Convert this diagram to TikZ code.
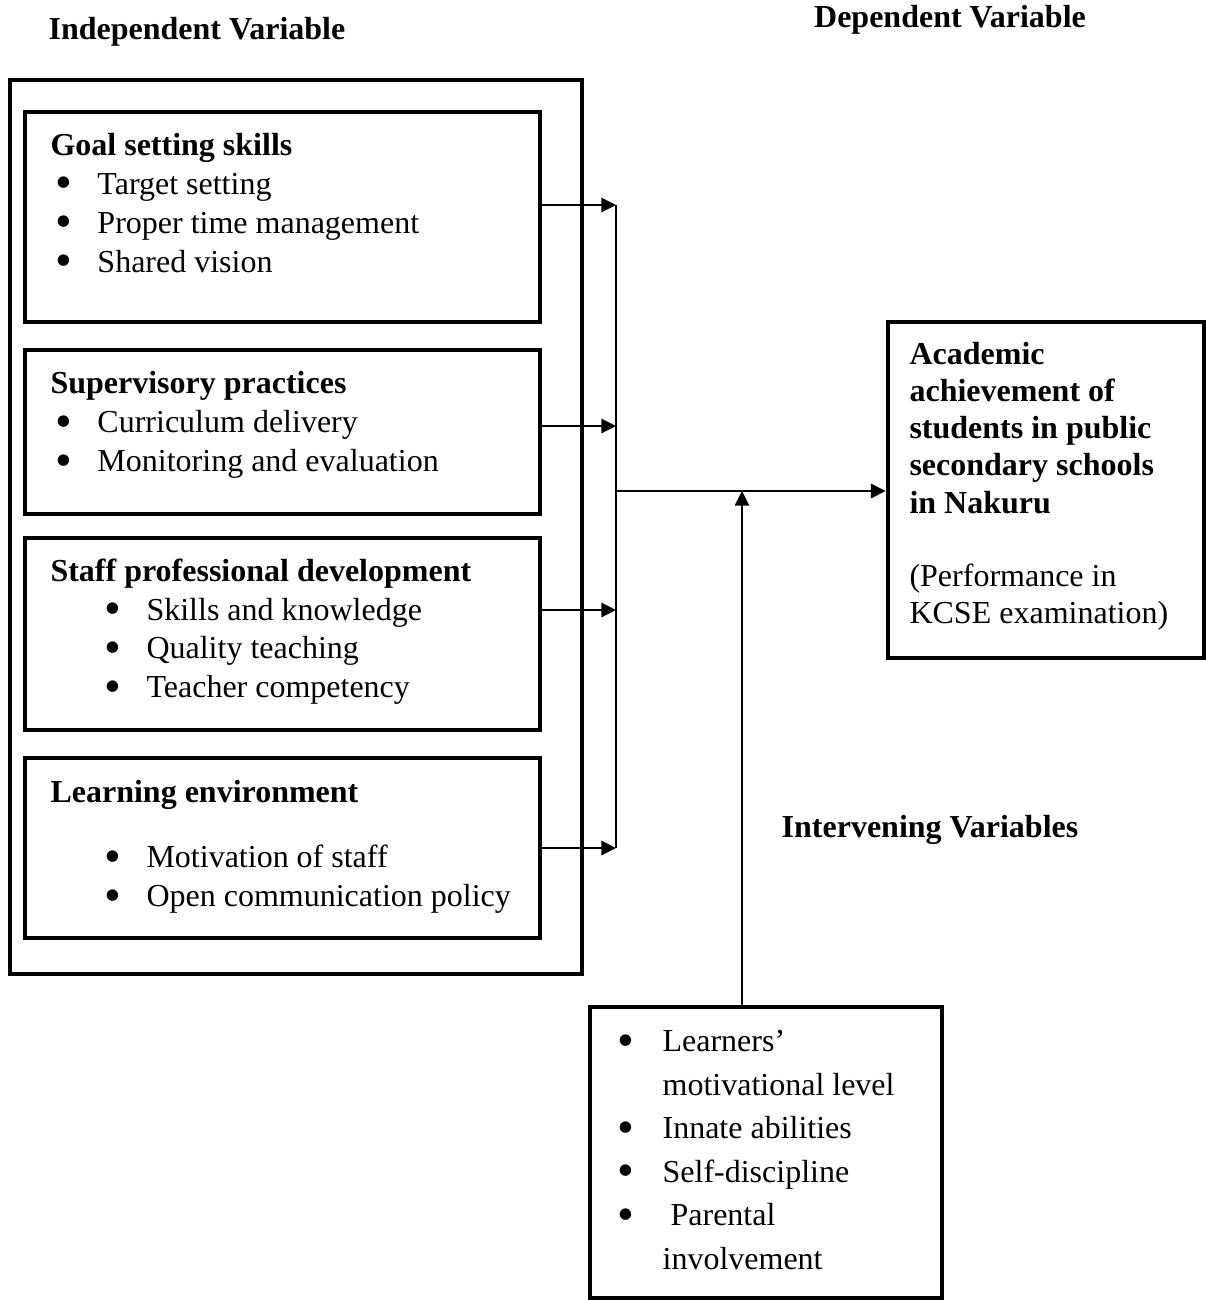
\documentclass[tikz,border=0pt]{standalone}
\usepackage{fontspec}
\setmainfont{Liberation Serif}
\usetikzlibrary{positioning,arrows.meta,fit}
\newcommand{\gpuce}{\smash{\raisebox{-1.7pt}{\fontsize{18}{18}\selectfont\textbullet}}}
\newcommand{\puce}[1][0pt]{\hspace*{#1}\makebox[17.6pt][l]{\hspace*{1.7pt}\gpuce}}
\newcommand{\pucebas}{\makebox[16.9pt][l]{\gpuce}}

\begin{document}
\begin{tikzpicture}[x=0.375pt, y=-0.375pt,
  boite/.style={rectangle, draw, line width=1.5pt, inner sep=0pt},
  txt/.style={anchor=north west, inner sep=0pt, align=left, font=\fontsize{12}{14.6}\selectfont},
  titre/.style={font=\fontsize{12}{14.6}\selectfont\bfseries, inner sep=0pt},
  fl/.style={-{Triangle[length=5.5pt, width=5.4pt]}, line width=0.75pt}]
\useasboundingbox (0,0) rectangle (1206,1300);

% titres
\node[titre] (tind) at (197,32) {Independent Variable};
\node[titre] (tdep) at (950,20) {Dependent Variable};
\node[titre] (tint) at (930,830) {Intervening Variables};

% variables indépendantes
\node[boite, fit={(10,80) (582,974)}] (cadre) {};
\node[boite, fit={(25,112) (540,322)}] (goal) {};
\node[boite, fit={(25,350) (540,514)}] (sup) {};
\node[boite, fit={(25,538) (540,730)}] (staff) {};
\node[boite, fit={(25,758) (540,938)}] (learn) {};

\node[txt] (goalt) at (50,132.5) {\textbf{Goal setting skills}\\
  \puce Target setting\\ \puce Proper time management\\ \puce Shared vision};
\node[txt] (supt) at (50,371) {\textbf{Supervisory practices}\\
  \puce Curriculum delivery\\ \puce Monitoring and evaluation};
\node[txt] (stafft) at (50,558) {\textbf{Staff professional development}\\
  \puce[18.4pt]Skills and knowledge\\ \puce[18.4pt]Quality teaching\\ \puce[18.4pt]Teacher competency};
\node[txt] (learnt) at (50,780) {\textbf{Learning environment}\\[9.75pt]
  \puce[18.4pt]Motivation of staff\\ \puce[18.4pt]Open communication policy};

% variable dépendante
\node[boite, line width=1.8pt, fit={(888,322) (1204,658)}] (dep) {};
\node[txt, font=\fontsize{12}{13.9}\selectfont] (dept) at (909,342) {\textbf{Academic}\\
  \textbf{achievement of}\\ \textbf{students in public}\\ \textbf{secondary schools}\\
  \textbf{in Nakuru}\\[13.5pt] (Performance in\\ KCSE examination)};

% variables intermédiaires
\node[boite, fit={(590,1007) (942,1298)}] (inter) {};
\node[txt, font=\fontsize{12}{16.3}\selectfont] (intert) at (617,1030) {\pucebas Learners'\\
  \hspace*{16.9pt}motivational level\\ \pucebas Innate abilities\\ \pucebas Self-discipline\\
  \pucebas\ Parental\\ \hspace*{16.9pt}involvement};

% liaisons
\coordinate (bh) at (616,205);
\coordinate (bm) at (616,491);
\coordinate (bb) at (616,848);
\coordinate (jn) at (742,491);
\draw[line width=0.6pt] (bh) -- (bb);
\draw[fl] (goal.east |- bh) -- (bh);
\draw[fl] ([yshift=2.25pt]sup.east) -- ([yshift=2.25pt]sup.east -| bh);
\draw[fl] ([yshift=9pt]staff.east) -- ([yshift=9pt]staff.east -| bh);
\draw[fl] (learn.east |- bb) -- (bb);
\draw[fl] (bm) -- (dep.west |- bm);
\draw[fl] (inter.north -| jn) -- (jn);

\end{tikzpicture}
\end{document}
